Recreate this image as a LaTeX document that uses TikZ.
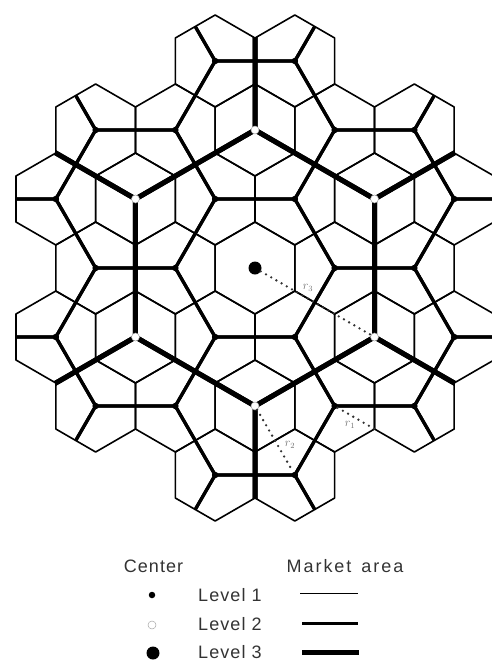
\documentclass[tikz,border=0pt]{standalone}
\usepackage{fontspec}
\newfontfamily\legendfont[LetterSpace=6]{Liberation Sans}
\newfontfamily\legendwide[LetterSpace=11]{Liberation Sans}
\usetikzlibrary{calc}
\newcommand\cellx[2]{255+79.674*(#1)+39.837*(#2)}
\newcommand\celly[2]{268-69*(#2)}
\def\cells{-2/3,-1/3,-3/2,-2/2,-1/2,0/2,1/2,-3/1,-2/1,-1/1,0/1,1/1,2/1,-2/0,-1/0,0/0,1/0,2/0,-2/-1,-1/-1,0/-1,1/-1,2/-1,3/-1,-1/-2,0/-2,1/-2,2/-2,3/-2,1/-3,2/-3}
\tikzset{
  areaone/.style={line width=1.6pt, line join=round},
  areatwo/.style={line width=3.2pt, line join=round, line cap=round},
  areathree/.style={line width=5pt, line join=round, line cap=round},
  dotone/.style={circle, fill=black, inner sep=0pt, minimum size=6.5pt},
  dottwo/.style={circle, fill=white, draw=black!35, line width=0.5pt, inner sep=0pt, minimum size=8pt},
  dotthree/.style={circle, fill=black, inner sep=0pt, minimum size=13pt},
  rline/.style={line width=2.6pt, line cap=round, dash pattern=on 0pt off 6pt, black!80},
  rlabel/.style={font=\fontsize{12}{12}\selectfont, text=black!55, inner sep=0pt},
  legtext/.style={font=\legendfont\fontsize{18}{20}\selectfont, text=black!80, inner sep=0pt},
}
\begin{document}
\begin{tikzpicture}[x=1pt,y=-1pt]
\useasboundingbox (0,0) rectangle (491,662);
% level-1 market areas
\foreach \i/\j in \cells {
  \draw[areaone] ({\cellx{\i}{\j}},{\celly{\i}{\j}}) +(30:46) -- +(90:46) -- +(150:46) -- +(210:46) -- +(270:46) -- +(330:46) -- cycle;
}
\begin{scope}
  \clip foreach \i/\j in \cells { ({\cellx{\i}{\j}},{\celly{\i}{\j}}) +(30:46) -- +(90:46) -- +(150:46) -- +(210:46) -- +(270:46) -- +(330:46) -- cycle };
  % level-2 market areas
  \foreach \i in {-5,...,5} {
    \foreach \j in {-5,...,5} {
      \pgfmathtruncatemacro\mm{mod(\i-\j+30,3)}
      \ifnum\mm=0
        \draw[areatwo] ({\cellx{\i}{\j}},{\celly{\i}{\j}}) +(0:79.674) -- +(60:79.674) -- +(120:79.674) -- +(180:79.674) -- +(240:79.674) -- +(300:79.674) -- cycle;
      \fi
    }
  }
  % level-3 market areas
  \foreach \p in {-2,...,2} {
    \foreach \q in {-2,...,2} {
      \draw[areathree] ({\cellx{3*\p}{3*\q}},{\celly{3*\p}{3*\q}}) +(30:138) -- +(90:138) -- +(150:138) -- +(210:138) -- +(270:138) -- +(330:138) -- cycle;
    }
  }
\end{scope}
% centres
\foreach \i/\j in \cells {
  \pgfmathtruncatemacro\mm{mod(\i-\j+30,3)}
  \ifnum\mm=0
    \ifnum\i=0 \ifnum\j=0
      \node[dotthree] (cell-\i-\j) at ({\cellx{\i}{\j}},{\celly{\i}{\j}}) {};
    \else
      \node[dottwo] (cell-\i-\j) at ({\cellx{\i}{\j}},{\celly{\i}{\j}}) {};
    \fi \else
      \node[dottwo] (cell-\i-\j) at ({\cellx{\i}{\j}},{\celly{\i}{\j}}) {};
    \fi
  \else
    \node[dotone] (cell-\i-\j) at ({\cellx{\i}{\j}},{\celly{\i}{\j}}) {};
  \fi
}
% ranges
\coordinate (vtx) at ($(cell-2--2)+(30:46)$);
\draw[rline] (cell-0-0) -- (cell-2--1);
\draw[rline] (cell-1--2) -- (cell-2--3);
\draw[rline] (cell-2--2) -- (vtx);
\node[rlabel] (lr3) at (308,288) {$r_3$};
\node[rlabel] (lr2) at (290,445) {$r_2$};
\node[rlabel] (lr1) at (350,425) {$r_1$};
% legend
\node[legtext, anchor=base] (hc) at (153.5,572) {Center};
\node[legtext, font=\legendwide\fontsize{18}{20}\selectfont, anchor=base] (hm) at (345,572) {Market\hspace{3pt} area};
\node[legtext, anchor=base west] (t1) at (198,601) {Level 1};
\node[legtext, anchor=base west] (t2) at (198,630) {Level 2};
\node[legtext, anchor=base west] (t3) at (198,658) {Level 3};
\node[dotone] (k1) at (152,595) {};
\node[dottwo] (k2) at (152,625) {};
\node[dotthree] (k3) at (153,653) {};
\coordinate (m1a) at (300,593.5); \coordinate (m1b) at (358,593.5);
\coordinate (m2a) at (302,623.5); \coordinate (m2b) at (358,623.5);
\coordinate (m3a) at (302,652.5); \coordinate (m3b) at (359,652.5);
\draw[areaone] (m1a) -- (m1b);
\draw[areatwo, line cap=butt] (m2a) -- (m2b);
\draw[areathree, line cap=butt] (m3a) -- (m3b);
\end{tikzpicture}
\end{document}
